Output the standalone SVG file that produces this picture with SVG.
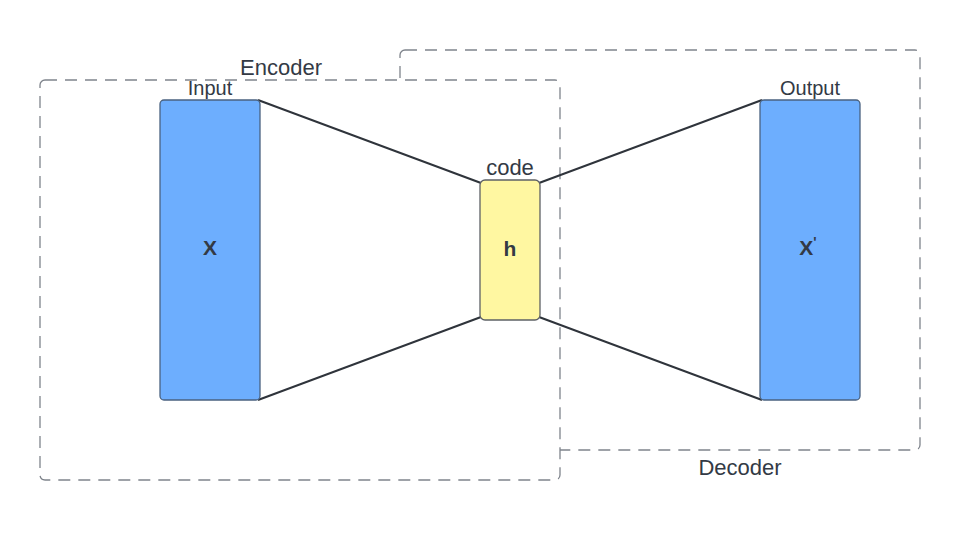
<svg xmlns="http://www.w3.org/2000/svg" width="970" height="540" viewBox="0 0 970 540">
<style>
.grp{fill:#ffffff;stroke:#7f848c;stroke-width:1.3;stroke-dasharray:12,8}
.blue{fill:#6daefe;stroke:#4a6280;stroke-width:1.3}
.yel{fill:#fff7a1;stroke:#5e6166;stroke-width:1.3}
.edge{stroke:#2f343b;stroke-width:2;fill:none}
text{font-family:"Liberation Sans",Arial,sans-serif;fill:#333a45}
.lbl{font-size:22px;text-anchor:middle}
.sm{font-size:20px;text-anchor:middle}
.b{font-size:21px;font-weight:bold;text-anchor:middle}
</style>
<rect id="background" width="970" height="540" fill="#ffffff"/>
<g id="decoder-group">
<rect class="grp" x="400" y="50" width="520" height="400" rx="5"/>
<text class="lbl" x="740" y="475">Decoder</text>
</g>
<g id="encoder-group">
<rect class="grp" x="40" y="80" width="520" height="400" rx="5"/>
<text class="lbl" x="281" y="75">Encoder</text>
</g>
<g id="connectors">
<line class="edge" x1="258" y1="100" x2="481" y2="183"/>
<line class="edge" x1="258" y1="400" x2="481" y2="317"/>
<line class="edge" x1="539" y1="183" x2="762" y2="100"/>
<line class="edge" x1="539" y1="317" x2="762" y2="400"/>
</g>
<g id="input">
<rect class="blue" x="160" y="100" width="100" height="300" rx="4"/>
<text class="sm" x="210" y="95">Input</text>
<text class="b" x="210" y="255">X</text>
</g>
<g id="code">
<rect class="yel" x="480" y="180" width="60" height="140" rx="5"/>
<text class="lbl" x="510" y="175">code</text>
<text class="b" x="510" y="256">h</text>
</g>
<g id="output">
<rect class="blue" x="760" y="100" width="100" height="300" rx="4"/>
<text class="sm" x="810" y="95">Output</text>
<text class="b" x="808" y="255">X<tspan font-size="14" dy="-8">'</tspan></text>
</g>
</svg>
